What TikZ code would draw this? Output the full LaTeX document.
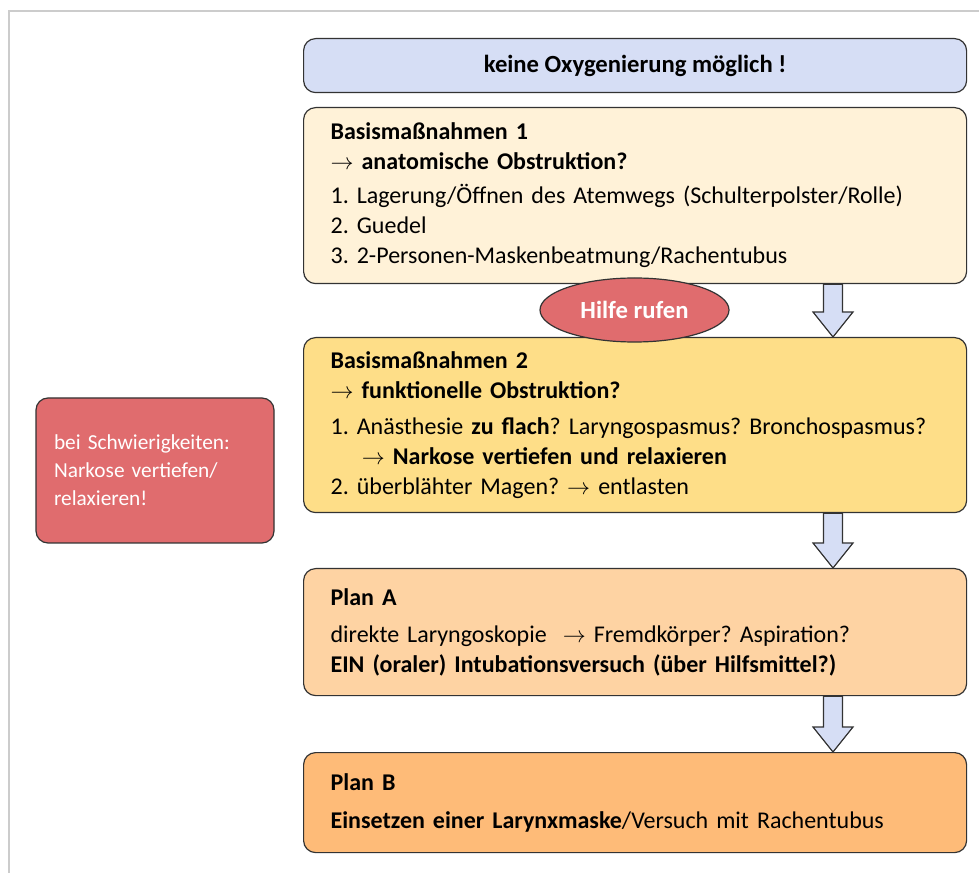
\documentclass[tikz,border=0pt]{standalone}
\usepackage{fontspec}
\setmainfont{Carlito}
\usetikzlibrary{shapes.geometric, calc, positioning}

\definecolor{titelblau}{HTML}{D6DEF5}
\definecolor{basis1}{HTML}{FFF2D8}
\definecolor{basis2}{HTML}{FEDE88}
\definecolor{planA}{HTML}{FED3A3}
\definecolor{planB}{HTML}{FEBB78}
\definecolor{alarmrot}{HTML}{E06C6E}
\definecolor{rahmen}{HTML}{333333}

\newcommand{\pfeil}{$\rightarrow$}
\newcommand{\blockpfeil}[2]{%
  \filldraw[blockarrow] let \p1=(#1), \p2=(#2) in
    (\x1-7.1pt,\y1) -- (\x1-7.1pt,\y2+18.75pt) -- (\x1-15pt,\y2+18.75pt) -- (\x2,\y2)
    -- (\x1+15pt,\y2+18.75pt) -- (\x1+7.1pt,\y2+18.75pt) -- (\x1+7.1pt,\y1) -- cycle;}

\begin{document}
\frenchspacing
\begin{tikzpicture}[x=0.75pt, y=-0.75pt,%
  stepbox/.style={draw=rahmen, line width=0.9pt, rounded corners=9pt, anchor=north west, minimum width=497.25pt, inner xsep=20.25pt, text width=456.75pt, align=left, font=\fontsize{18}{22.5}\selectfont},%
  titlebox/.style={draw=rahmen, line width=0.9pt, rounded corners=9pt, anchor=north west, minimum width=497.25pt, minimum height=40.5pt, fill=titelblau, font=\fontsize{18.5}{22.5}\selectfont\bfseries},%
  hinweis/.style={draw=rahmen, line width=0.9pt, rounded corners=9pt, fill=alarmrot, text=white, minimum width=178.5pt, minimum height=108.75pt, inner xsep=13.5pt, text width=151.5pt, align=left, font=\fontsize{16}{21}\selectfont},%
  hilfe/.style={ellipse, draw=rahmen, line width=0.9pt, fill=alarmrot, text=white, minimum width=141.75pt, minimum height=48pt, inner sep=0pt, font=\fontsize{18.5}{20}\selectfont\bfseries},%
  blockarrow/.style={draw=rahmen, line width=0.9pt, fill=titelblau, line join=miter}%
]
  \useasboundingbox (0,0) rectangle (979,873);
  % Rahmen
  \draw[line width=1.5pt, draw=black!20] (979,11) -- (9,11) -- (9,873);
  % Kette der Maßnahmen
  \node[titlebox] (titel) at (303,38) {keine Oxygenierung möglich !};
  \node[stepbox, fill=basis1, minimum height=132pt] (b1) at (303,107) {%
    \textbf{Basismaßnahmen 1}\\
    \pfeil\ \textbf{anatomische Obstruktion?}\\[3pt]
    1. Lagerung/Öffnen des Atemwegs (Schulterpolster/Rolle)\\
    2. Guedel\\
    3. 2-Personen-Maskenbeatmung/Rachentubus};
  \node[stepbox, fill=basis2, minimum height=131.25pt] (b2) at (303,337) {%
    \textbf{Basismaßnahmen 2}\\
    \pfeil\ \textbf{funktionelle Obstruktion?}\\[4pt]
    1. Anästhesie \textbf{zu flach}? Laryngospasmus? Bronchospasmus?\\
    \hspace*{1.3em}\pfeil\ \textbf{Narkose vertiefen und relaxieren}\\
    2. überblähter Magen? \pfeil\ entlasten};
  \node[stepbox, fill=planA, minimum height=95.25pt] (pa) at (303,568) {%
    \textbf{Plan A}\\[5pt]
    direkte Laryngoskopie \ \pfeil\ Fremdkörper? Aspiration?\\
    \textbf{EIN (oraler) Intubationsversuch (über Hilfsmittel?)}};
  \node[stepbox, fill=planB, minimum height=75pt] (pb) at (303,752) {%
    \textbf{Plan B}\\[6pt]
    \textbf{Einsetzen einer Larynxmaske}/Versuch mit Rachentubus};
  % Hinweis links
  \node[hinweis] (schwierig) at (155,470.5) {bei Schwierigkeiten:\\ Narkose vertiefen/\\ relaxieren!};
  % Pfeile
  \coordinate (ax) at (833,0);
  \blockpfeil{b1.south -| ax}{b2.north -| ax}
  \blockpfeil{b2.south -| ax}{pa.north -| ax}
  \blockpfeil{pa.south -| ax}{pb.north -| ax}
  \node[hilfe] (hilferuf) at (634.5,310) {Hilfe rufen};
\end{tikzpicture}
\end{document}
